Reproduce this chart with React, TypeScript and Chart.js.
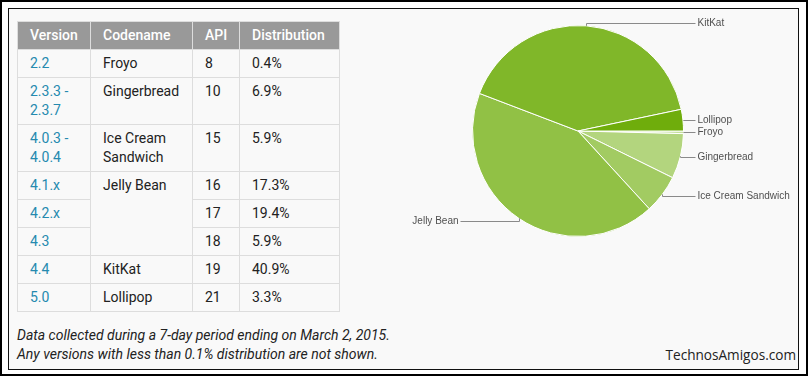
import React, { useEffect, useRef } from "react";
import { Chart, registerables } from "chart.js";

Chart.register(...registerables);

// ---- Table data ----
const tableHeaders = ["Version", "Codename", "API", "Distribution"];
const versions = ["2.2", "2.3.3 - 2.3.7", "4.0.3 - 4.0.4", "4.1.x", "4.2.x", "4.3", "4.4", "5.0"];
const codenames = ["Froyo", "Gingerbread", "Ice Cream Sandwich", "Jelly Bean", "", "", "KitKat", "Lollipop"];
const codenameSpans = [1, 1, 1, 3, 0, 0, 1, 1];
const apiLevels = [8, 10, 15, 16, 17, 18, 19, 21];
const distributions = [0.4, 6.9, 5.9, 17.3, 19.4, 5.9, 40.9, 3.3];

// ---- Pie data ----
const pieLabels = ["Froyo", "Gingerbread", "Ice Cream Sandwich", "Jelly Bean", "KitKat", "Lollipop"];
const pieValues = [0.4, 6.9, 5.9, 42.6, 40.9, 3.3];
const pieColors = ["#c4df9b", "#b3d57e", "#a2cb62", "#91c145", "#80b729", "#6fad0c"];

const footnotes = [
  "Data collected during a 7-day period ending on March 2, 2015.",
  "Any versions with less than 0.1% distribution are not shown.",
];
const watermark = "TechnosAmigos.com";

const leaderPlugin = {
  id: "leaders",
  afterDatasetsDraw(chart: any) {
    const ctx = chart.ctx as CanvasRenderingContext2D;
    const meta = chart.getDatasetMeta(0);
    ctx.save();
    ctx.font = '10px "Liberation Sans", Arial, sans-serif';
    ctx.textBaseline = "middle";
    meta.data.forEach((arc: any, i: number) => {
      const { x, y, startAngle, endAngle, outerRadius } = arc.getProps(
        ["x", "y", "startAngle", "endAngle", "outerRadius"],
        true
      );
      const mid = (startAngle + endAngle) / 2;
      const R = outerRadius;
      const px = Math.round(x + R * Math.cos(mid)) + 0.5;
      const py = y + R * Math.sin(mid);
      const ly = Math.round(y + (R + 3) * Math.sin(mid)) + 0.5;
      const right = Math.cos(mid) >= 0;
      const lineEnd = right ? x + R + 12 : x - R - 12;
      const textX = right ? x + R + 14 : x - R - 14;
      ctx.strokeStyle = "#8a8a8a";
      ctx.lineWidth = 1;
      ctx.beginPath();
      ctx.moveTo(px, py);
      ctx.lineTo(px, ly);
      ctx.lineTo(lineEnd, ly);
      ctx.stroke();
      ctx.fillStyle = "#505050";
      ctx.textAlign = right ? "left" : "right";
      ctx.fillText(chart.data.labels[i], textX, ly);
    });
    ctx.restore();
  },
};

function PieChart() {
  const ref = useRef<HTMLCanvasElement | null>(null);
  useEffect(() => {
    if (!ref.current) return;
    const chart = new Chart(ref.current, {
      type: "pie",
      data: {
        labels: pieLabels,
        datasets: [
          {
            data: pieValues,
            backgroundColor: pieColors,
            borderColor: "#ffffff",
            borderWidth: 1,
          },
        ],
      },
      options: {
        animation: false,
        responsive: false,
        maintainAspectRatio: false,
        devicePixelRatio: 1,
        rotation: 90,
        layout: { padding: { left: 72, right: 114, top: 15, bottom: 33 } },
        plugins: {
          legend: { display: false },
          tooltip: { enabled: false },
        },
        events: [],
      },
      plugins: [leaderPlugin],
    });
    return () => chart.destroy();
  }, []);
  return (
    <canvas
      ref={ref}
      width={398}
      height={260}
      style={{ position: "absolute", left: 400, top: 10, width: 398, height: 260 }}
    />
  );
}

export default function App() {
  const cellBase: React.CSSProperties = {
    border: "1px solid #dddddd",
    padding: "4px 12px 4px 12px",
    lineHeight: "19px",
    verticalAlign: "top",
    textAlign: "left",
  };
  const colWidths = [73, 102, 47, 100];
  return (
    <div
      style={{
        position: "fixed",
        left: 0,
        top: 0,
        width: 808,
        height: 376,
        boxSizing: "border-box",
        border: "2px solid #000",
        background: "#ffffff",
        overflow: "hidden",
      }}
    >
      <div
        style={{
          position: "absolute",
          left: 6,
          top: 6,
          width: 791,
          height: 362,
          boxSizing: "border-box",
          border: "1px solid #111",
          background: "#f9f9f9",
        }}
      />
      <table
        style={{
          position: "absolute",
          left: 15,
          top: 19,
          width: 322,
          borderCollapse: "collapse",
          tableLayout: "fixed",
          fontFamily: "Roboto, 'Noto Sans', sans-serif",
          fontSize: 14,
          color: "#222222",
        }}
      >
        <colgroup>
          {colWidths.map((w, i) => (
            <col key={i} style={{ width: w }} />
          ))}
        </colgroup>
        <thead>
          <tr>
            {tableHeaders.map((h) => (
              <th
                key={h}
                style={{
                  ...cellBase,
                  background: "#999999",
                  color: "#ffffff",
                  fontWeight: 500,
                }}
              >
                {h}
              </th>
            ))}
          </tr>
        </thead>
        <tbody>
          {versions.map((v, i) => (
            <tr key={v}>
              <td style={{ ...cellBase, color: "#258aaf" }}>{v}</td>
              {codenameSpans[i] > 0 && (
                <td style={cellBase} rowSpan={codenameSpans[i]}>
                  {codenames[i]}
                </td>
              )}
              <td style={cellBase}>{apiLevels[i]}</td>
              <td style={cellBase}>{distributions[i].toFixed(1)}%</td>
            </tr>
          ))}
        </tbody>
      </table>
      <div
        style={{
          position: "absolute",
          left: 15,
          top: 324,
          fontFamily: "Roboto, 'Noto Sans', sans-serif",
          fontStyle: "italic",
          fontSize: 14,
          lineHeight: "19px",
          color: "#222222",
          whiteSpace: "nowrap",
        }}
      >
        {footnotes.map((f) => (
          <div key={f}>{f}</div>
        ))}
      </div>
      <div
        style={{
          position: "absolute",
          right: 10,
          top: 343,
          fontFamily: "'Open Sans', sans-serif",
          fontSize: 13.6,
          lineHeight: "20px",
          color: "#222222",
          whiteSpace: "nowrap",
        }}
      >
        {watermark}
      </div>
      <div style={{ position: "absolute", left: -2, top: -2 }}>
        <PieChart />
      </div>
    </div>
  );
}
